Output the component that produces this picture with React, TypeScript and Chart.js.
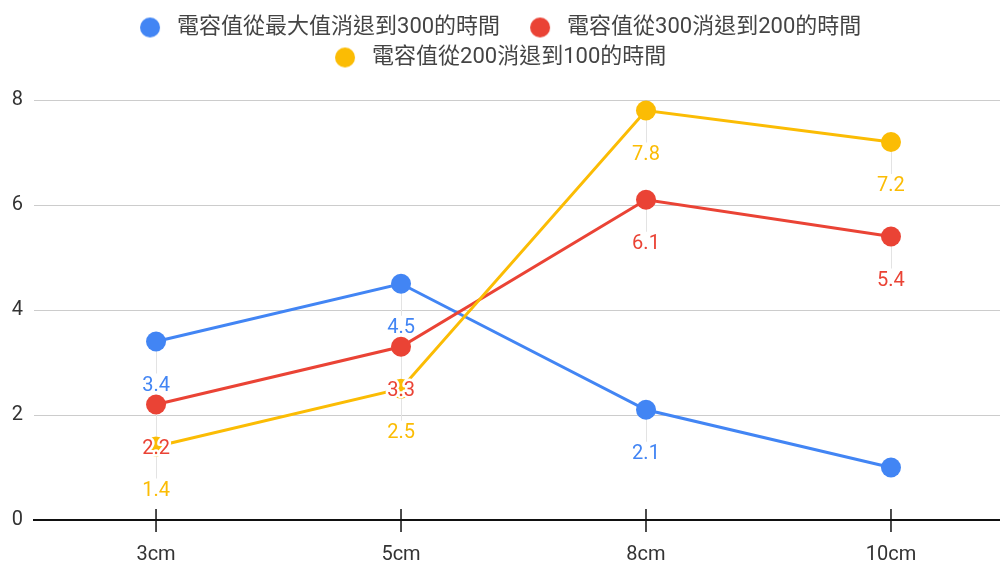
import { useEffect, useRef } from "react";
import { Chart, registerables } from "chart.js";

Chart.register(...registerables);

// ---------- data ----------
const categories = ["3cm", "5cm", "8cm", "10cm"];
const seriesNames = [
  "電容值從最大值消退到300的時間",
  "電容值從300消退到200的時間",
  "電容值從200消退到100的時間",
];
const maxTo300 = [3.4, 4.5, 2.1, 1.0];
const from300To200 = [2.2, 3.3, 6.1, 5.4];
const from200To100 = [1.4, 2.5, 7.8, 7.2];
const yTickValues = [0, 2, 4, 6, 8];

// ---------- styles ----------
const COLORS = ["#4285F4", "#EA4335", "#FBBC04"];
const FONT = 'Roboto, "Noto Sans CJK TC", sans-serif';
const LABEL_OFFSET = 44;
const LABEL_SIZE = 20;

function legendDot(color: string): HTMLCanvasElement {
  const c = document.createElement("canvas");
  c.width = 48;
  c.height = 22;
  const ctx = c.getContext("2d")!;
  ctx.fillStyle = color;
  ctx.beginPath();
  ctx.arc(32, 11, 10, 0, Math.PI * 2);
  ctx.fill();
  return c;
}

function labelVisible(chart: any, y: number) {
  return y + LABEL_OFFSET + 10 <= chart.chartArea.bottom - 12;
}

const overlayPlugin = {
  id: "overlay",
  beforeInit(chart: any) {
    const legend = chart.legend;
    if (!legend) return;
    const origFit = legend.fit;
    legend.fit = function () {
      origFit.call(this);
      this.height += 21.5;
      if (this.lineWidths) this.lineWidths = this.lineWidths.map((w: number) => w + 22);
    };
  },
  beforeDatasetsDraw(chart: any) {
    const ctx = chart.ctx;
    ctx.save();
    ctx.strokeStyle = "#e3e3e3";
    ctx.lineWidth = 1;
    chart.data.datasets.forEach((_: any, di: number) => {
      const meta = chart.getDatasetMeta(di);
      meta.data.forEach((pt: any) => {
        if (!labelVisible(chart, pt.y)) return;
        const x = Math.round(pt.x) + 0.5;
        ctx.beginPath();
        ctx.moveTo(x, pt.y);
        ctx.lineTo(x, pt.y + LABEL_OFFSET - 12);
        ctx.stroke();
      });
    });
    ctx.restore();
  },
  afterDatasetsDraw(chart: any) {
    const ctx = chart.ctx;
    ctx.save();
    ctx.font = `${LABEL_SIZE}px ${FONT}`;
    ctx.textAlign = "center";
    ctx.textBaseline = "middle";
    ctx.lineJoin = "round";
    chart.data.datasets.forEach((ds: any, di: number) => {
      const meta = chart.getDatasetMeta(di);
      meta.data.forEach((pt: any, i: number) => {
        if (!labelVisible(chart, pt.y)) return;
        const v = ds.data[i].y;
        const text = String(v);
        const ly = pt.y + LABEL_OFFSET;
        ctx.strokeStyle = "#ffffff";
        ctx.lineWidth = 5;
        ctx.strokeText(text, pt.x, ly);
        ctx.fillStyle = COLORS[di];
        ctx.fillText(text, pt.x, ly);
      });
    });
    // category tick marks crossing the baseline
    const xs = chart.scales.x;
    const b = chart.chartArea.bottom;
    ctx.strokeStyle = "#111";
    ctx.lineWidth = 1.5;
    categories.forEach((_, i) => {
      const x = xs.getPixelForValue(i);
      ctx.beginPath();
      ctx.moveTo(x, b - 11);
      ctx.lineTo(x, b + 12);
      ctx.stroke();
    });
    ctx.restore();
  },
};

export default function App() {
  const ref = useRef<HTMLCanvasElement>(null);

  useEffect(() => {
    if (!ref.current) return;
    const seriesValues = [maxTo300, from300To200, from200To100];
    const dots = COLORS.map(legendDot);
    const defaultLabels = (Chart as any).defaults.plugins.legend.labels.generateLabels;

    const chart = new Chart(ref.current, {
      type: "line",
      data: {
        datasets: seriesValues.map((vals, si) => ({
          label: seriesNames[si],
          data: vals.map((v, i) => ({ x: i, y: v })),
          borderColor: COLORS[si],
          backgroundColor: COLORS[si],
          borderWidth: 3,
          pointRadius: 10,
          pointHoverRadius: 10,
          pointBorderWidth: 0,
          tension: 0,
          clip: false,
          order: 3 - si,
        })),
      },
      options: {
        animation: false,
        responsive: false,
        maintainAspectRatio: false,
        events: [],
        layout: { autoPadding: false, padding: { top: 8.5, left: 1.3, right: 0, bottom: 0 } },
        plugins: {
          legend: {
            position: "top",
            labels: {
              usePointStyle: true,
              pointStyleWidth: 48,
              boxHeight: 22,
              padding: 8,
              color: "#444",
              font: { family: FONT, size: 22 },
              sort: (a: any, b: any) => a.datasetIndex - b.datasetIndex,
              generateLabels: (c: any) =>
                defaultLabels(c).map((item: any) => ({
                  ...item,
                  pointStyle: dots[item.datasetIndex],
                })),
            },
          },
          tooltip: { enabled: false },
        },
        scales: {
          x: {
            type: "linear",
            min: -0.5,
            max: 3.445,
            afterBuildTicks: (scale: any) => {
              scale.ticks = categories.map((_, i) => ({ value: i }));
            },
            afterFit: (scale: any) => {
              scale.paddingLeft = 0;
              scale.paddingRight = 0;
            },
            ticks: {
              callback: (v: any) => categories[v as number] ?? "",
              color: "#333",
              font: { family: FONT, size: 20 },
              padding: 11,
              autoSkip: false,
              maxRotation: 0,
            },
            grid: {
              display: true,
              drawOnChartArea: false,
              drawTicks: true,
              tickLength: 12,
              color: "rgba(0,0,0,0)",
            },
            border: { display: true, color: "#111", width: 2 },
          },
          y: {
            min: 0,
            max: 8,
            afterBuildTicks: (scale: any) => {
              scale.ticks = yTickValues.map((v) => ({ value: v }));
            },
            ticks: {
              color: "#333",
              font: { family: FONT, size: 20 },
              padding: 10.5,
            },
            grid: {
              drawTicks: false,
              lineWidth: 1,
              color: (c: any) => (c.tick && c.tick.value === 0 ? "rgba(0,0,0,0)" : "#cccccc"),
            },
            border: { display: false },
          },
        },
      } as any,
      plugins: [overlayPlugin],
    });
    return () => chart.destroy();
  }, []);

  return (
    <div
      style={{
        position: "absolute",
        left: 0,
        top: 0,
        width: 1000,
        height: 563,
        overflow: "hidden",
        background: "#fff",
      }}
    >
      <canvas ref={ref} width={1000} height={578} style={{ display: "block" }} />
    </div>
  );
}
